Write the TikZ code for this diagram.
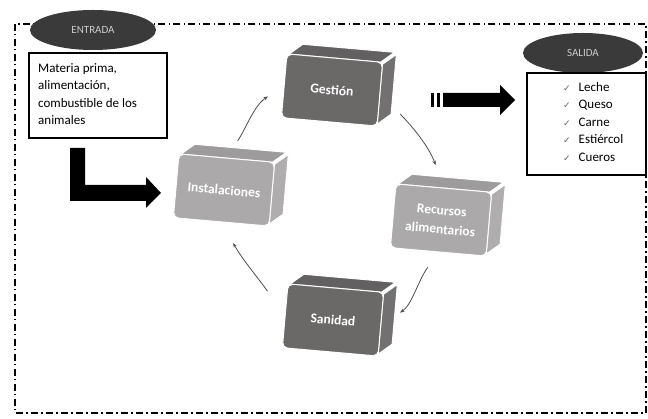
\documentclass[tikz,border=0pt]{standalone}
\usepackage{fontspec}
\setmainfont{Carlito}
\newfontfamily\simbolos{DejaVu Sans}
\usetikzlibrary{arrows.meta,shapes.geometric}
\definecolor{oscuro}{HTML}{6B6868}
\definecolor{claro}{HTML}{ABA9A9}
\definecolor{elipse}{HTML}{3A3A3A}
\newcommand{\chk}{{\simbolos\fontsize{9}{10}\selectfont\color{black!60}✓}}

\begin{document}
\begin{tikzpicture}[x=1pt, y=-1pt,
    marco/.style={line width=1.8pt, dash pattern=on 7pt off 3pt on 1.5pt off 3.5pt},
    etiqueta/.style={ellipse, fill=elipse, text=black!20, font=\fontsize{11}{13}\selectfont, minimum width=126pt, minimum height=40pt, inner sep=0pt},
    caja/.style={draw, line width=1.4pt, inner sep=0pt},
    texto/.style={inner sep=0pt, align=left, font=\fontsize{13}{17.5}\selectfont},
    frente/.style={rounded corners=5pt, draw=white, line width=1pt, minimum width=96pt, minimum height=64pt, text=white, font=\fontsize{13.5}{19}\selectfont\bfseries, align=center, transform shape},
    cara/.style={draw=white, line width=1pt, line join=round},
    ciclo/.style={draw=black!70, line width=0.8pt, -{Stealth[length=4.5pt,width=3.5pt]}}
]
\useasboundingbox (0,0) rectangle (648,419);
\draw[marco] (15,24) rectangle (646,413);

\node[etiqueta] (entrada) at (93,30) {ENTRADA};
\node[caja, minimum width=138pt, minimum height=85pt] (insumos) at (98,95.5) {};
\node[texto, anchor=north west] (insumostxt) at (38,63) {Materia prima,\\alimentación,\\combustible de los\\animales};

\node[etiqueta, minimum width=120pt] (salida) at (583,53) {SALIDA};
\node[caja, minimum width=119pt, minimum height=102pt] (productos) at (586.5,124) {};
\node[texto, anchor=north west] (productostxt) at (563,82) {\chk\hspace{8pt}Leche\\\chk\hspace{8pt}Queso\\\chk\hspace{8pt}Carne\\\chk\hspace{8pt}Estiércol\\\chk\hspace{8pt}Cueros};

\fill (70,148) -- (85,148) -- (85,185) -- (146,185) -- (146,177) -- (161,193) -- (146,208) -- (146,201) -- (70,201) -- cycle;
\fill (431,93) rectangle (434,107);
\fill (437,93) rectangle (440,107);
\fill (443,93) -- (500,93) -- (500,85) -- (515,100) -- (500,115) -- (500,107) -- (443,107) -- cycle;

\foreach \nombre/\x/\y/\col/\txt in {gest/332/90/oscuro/Gestión, inst/224/190/claro/Instalaciones, rec/441/220/claro/{Recursos\\alimentarios}, san/333/320/oscuro/Sanidad}{
  \begin{scope}[shift={(\x,\y)}, rotate=-5]
    \filldraw[fill=\col!92!black, cara] (-46,-32) -- (46,-32) -- (59,-43) -- (-33,-43) -- cycle;
    \filldraw[fill=\col!95!white, cara] (48,-30) -- (48,30) -- (61,19) -- (61,-41) -- cycle;
    \node[frente, fill=\col] (\nombre) at (0,0) {\txt};
  \end{scope}
}

\draw[ciclo, shorten <=20pt, shorten >=19pt] (inst.north) to[out=57, in=214] (gest.west);
\draw[ciclo, shorten <=28pt, shorten >=24pt] (gest.east) to[out=-45, in=110] (rec.north);
\draw[ciclo, shorten <=18pt, shorten >=22pt] (rec.south) to[out=235, in=32] (san.east);
\draw[ciclo, shorten <=30pt, shorten >=24pt] (san.west) to[out=125, in=-60] (inst.south);
\end{tikzpicture}
\end{document}
